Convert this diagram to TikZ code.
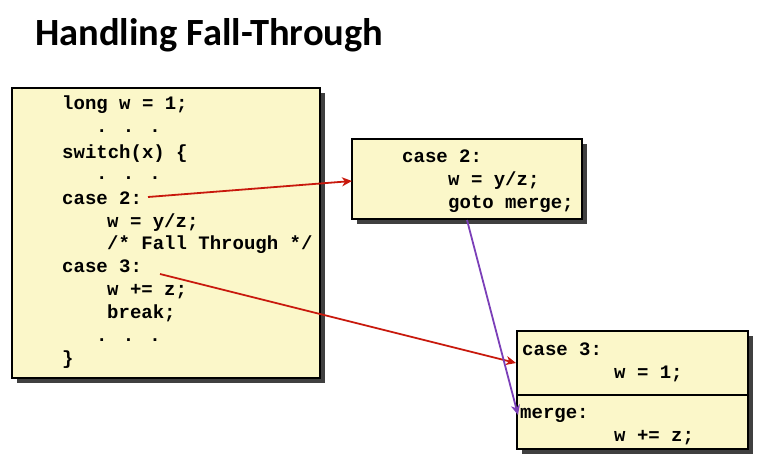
\documentclass[tikz,border=0pt]{standalone}
\usepackage{fontspec}
\setmainfont{Liberation Sans}
\newfontfamily\titlefont{Carlito}
\newfontfamily\codefont{Liberation Mono}
\usetikzlibrary{arrows.meta}
\definecolor{boxfill}{HTML}{FBF7C9}
\definecolor{arrred}{HTML}{C8180C}
\definecolor{arrpurple}{HTML}{7B3FB8}
\tikzset{
  codebox/.style={draw=black, line width=1.2pt, fill=boxfill},
  shadowbox/.style={fill=black!75},
  code/.style={anchor=base west, inner sep=0pt, font=\codefont\bfseries\fontsize{19}{19}\selectfont},
  redarrow/.style={draw=arrred, line width=1.8pt, -{Stealth[length=10pt,width=9pt,inset=3pt]}},
  purplearrow/.style={draw=arrpurple, line width=1.8pt, -{Stealth[length=10pt,width=9pt,inset=3pt]}}
}
\begin{document}
\begin{tikzpicture}[x=1pt,y=-1pt]
\useasboundingbox (0,0) rectangle (762,462);
% title
\node[anchor=base west, inner sep=0pt, font=\titlefont\bfseries\fontsize{38.5}{38.5}\selectfont] (title) at (35,46) {Handling Fall-Through};
% left box
\fill[shadowbox] (17,93) rectangle (325,383);
\draw[codebox] (12,88) rectangle (320,378);
\node[code] (l1) at (62,110) {long w = 1;};
\node[code] (l2) at (96,133) {. . .};
\node[code] (l3) at (62,159) {switch(x) \{};
\node[code] (l4) at (96,180) {. . .};
\node[code] (l5) at (62,205) {case 2:};
\node[code] (l6) at (107,227) {w = y/z;};
\node[code] (l7) at (107,249) {/* Fall Through */};
\node[code] (l8) at (62,272) {case 3:};
\node[code] (l9) at (107,295) {w += z;};
\node[code] (l10) at (107,318) {break;};
\node[code] (l11) at (96,341) {. . .};
\node[code] (l12) at (62,364) {\}};
% middle box
\fill[shadowbox] (357,144) rectangle (587,224);
\draw[codebox] (352,139) rectangle (582,219);
\node[code] (m1) at (402,163) {case 2:};
\node[code] (m2) at (448,186) {w = y/z;};
\node[code] (m3) at (448,209) {goto merge;};
% right box
\fill[shadowbox] (522,336) rectangle (753,454);
\draw[codebox] (517,331) rectangle (748,449);
\draw[black, line width=1.2pt] (517,395) -- (748,395);
\node[code] (r1) at (522,355) {case 3:};
\node[code] (r2) at (614,378) {w = 1;};
\node[code] (r3) at (520,418) {merge:};
\node[code] (r4) at (614,441) {w += z;};
% connectors
\coordinate (a1s) at (148,197);
\coordinate (a1e) at (352,181);
\coordinate (a2s) at (160,274);
\coordinate (a2e) at (516,363);
\coordinate (a3s) at (467,220);
\coordinate (a3e) at (518,415);
\draw[redarrow] (a1s) -- (a1e);
\draw[redarrow] (a2s) -- (a2e);
\draw[purplearrow] (a3s) -- (a3e);
\end{tikzpicture}
\end{document}
